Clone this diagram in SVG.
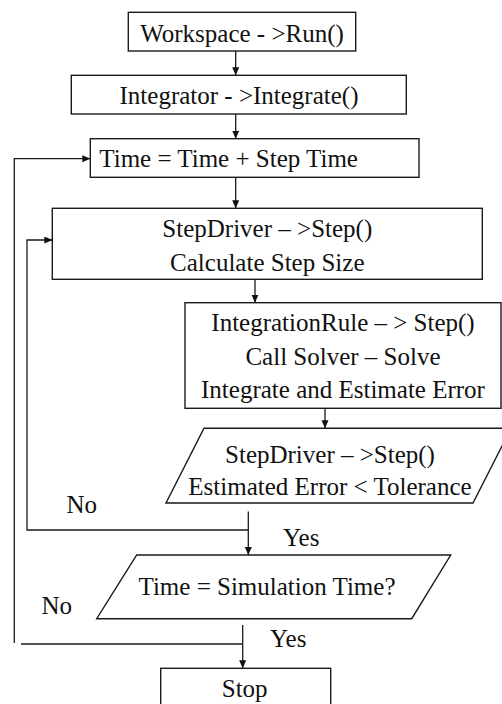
<svg xmlns="http://www.w3.org/2000/svg" width="502" height="704" viewBox="0 0 502 704">
  <style>
    .box { fill: #ffffff; stroke: #1a1a1a; stroke-width: 1.4; }
    .conn { fill: none; stroke: #1a1a1a; stroke-width: 1.3; }
    .lbl { font-family: "Liberation Serif", "Times New Roman", serif; font-size: 25px; fill: #111111; }
    .mid { text-anchor: middle; }
  </style>
  <defs>
    <marker id="arrow" markerUnits="userSpaceOnUse" markerWidth="8" markerHeight="8" refX="8" refY="3.5" orient="auto">
      <path d="M0,0 L8,3.5 L0,7 z" fill="#111111"/>
    </marker>
  </defs>

  <rect width="502" height="704" fill="#ffffff"/>

  <!-- connectors -->
  <g id="connectors">
    <line class="conn" x1="235.7" y1="51" x2="235.7" y2="75.3" marker-end="url(#arrow)"/>
    <line class="conn" x1="235.7" y1="114" x2="235.7" y2="138.7" marker-end="url(#arrow)"/>
    <line class="conn" x1="235.7" y1="177.3" x2="235.7" y2="208.3" marker-end="url(#arrow)"/>
    <line class="conn" x1="255" y1="278" x2="255" y2="302.7" marker-end="url(#arrow)"/>
    <line class="conn" x1="325" y1="408.3" x2="325" y2="428.3" marker-end="url(#arrow)"/>
    <line class="conn" x1="248.3" y1="511.5" x2="248.3" y2="555" marker-end="url(#arrow)"/>
    <line class="conn" x1="242.7" y1="625" x2="242.7" y2="668.3" marker-end="url(#arrow)"/>
    <!-- error too large: back to step size calculation -->
    <path class="conn" d="M248.3,530 H27 V240 H52.3" marker-end="url(#arrow)"/>
    <!-- simulation not finished: advance time -->
    <path class="conn" d="M242.7,644 H21"/>
    <path class="conn" d="M14.3,643 V158.7 H90.3" marker-end="url(#arrow)"/>
    <text class="lbl" x="66.5" y="513">No</text>
    <text class="lbl" x="283" y="546">Yes</text>
    <text class="lbl" x="41.5" y="614">No</text>
    <text class="lbl" x="270" y="647">Yes</text>
  </g>

  <g id="run">
    <rect class="box" x="128.3" y="12.3" width="227.4" height="38.7"/>
    <text class="lbl mid" x="242" y="41.5">Workspace - &gt;Run()</text>
  </g>

  <g id="integrate">
    <rect class="box" x="71.3" y="75.3" width="335" height="38.7"/>
    <text class="lbl mid" x="239" y="103.5">Integrator - &gt;Integrate()</text>
  </g>

  <g id="advance-time">
    <rect class="box" x="90.3" y="138.7" width="328.7" height="38.6"/>
    <text class="lbl" x="99.3" y="166.5">Time = Time + Step Time</text>
  </g>

  <g id="step-size">
    <rect class="box" x="52.3" y="208.3" width="430" height="71"/>
    <text class="lbl mid" x="267.3" y="237">StepDriver – &gt;Step()</text>
    <text class="lbl mid" x="267.3" y="270.7">Calculate Step Size</text>
  </g>

  <g id="integration-rule">
    <rect class="box" x="185" y="302.7" width="316" height="105.6"/>
    <text class="lbl mid" x="343" y="331">IntegrationRule – &gt; Step()</text>
    <text class="lbl mid" x="343" y="364.5">Call Solver – Solve</text>
    <text class="lbl mid" x="343" y="398.3">Integrate and Estimate Error</text>
  </g>

  <g id="error-check">
    <polygon class="box" points="204,428.3 511,428.3 473,503 166,503"/>
    <text class="lbl mid" x="330" y="462.7">StepDriver – &gt;Step()</text>
    <text class="lbl mid" x="330" y="495">Estimated Error &lt; Tolerance</text>
  </g>

  <g id="time-check">
    <polygon class="box" points="136.7,555 450.7,555 411.7,618.7 96.7,618.7"/>
    <text class="lbl mid" x="267" y="595">Time = Simulation Time?</text>
  </g>

  <g id="stop">
    <rect class="box" x="160.7" y="668.3" width="170" height="45"/>
    <text class="lbl mid" x="244.7" y="697">Stop</text>
  </g>
</svg>
